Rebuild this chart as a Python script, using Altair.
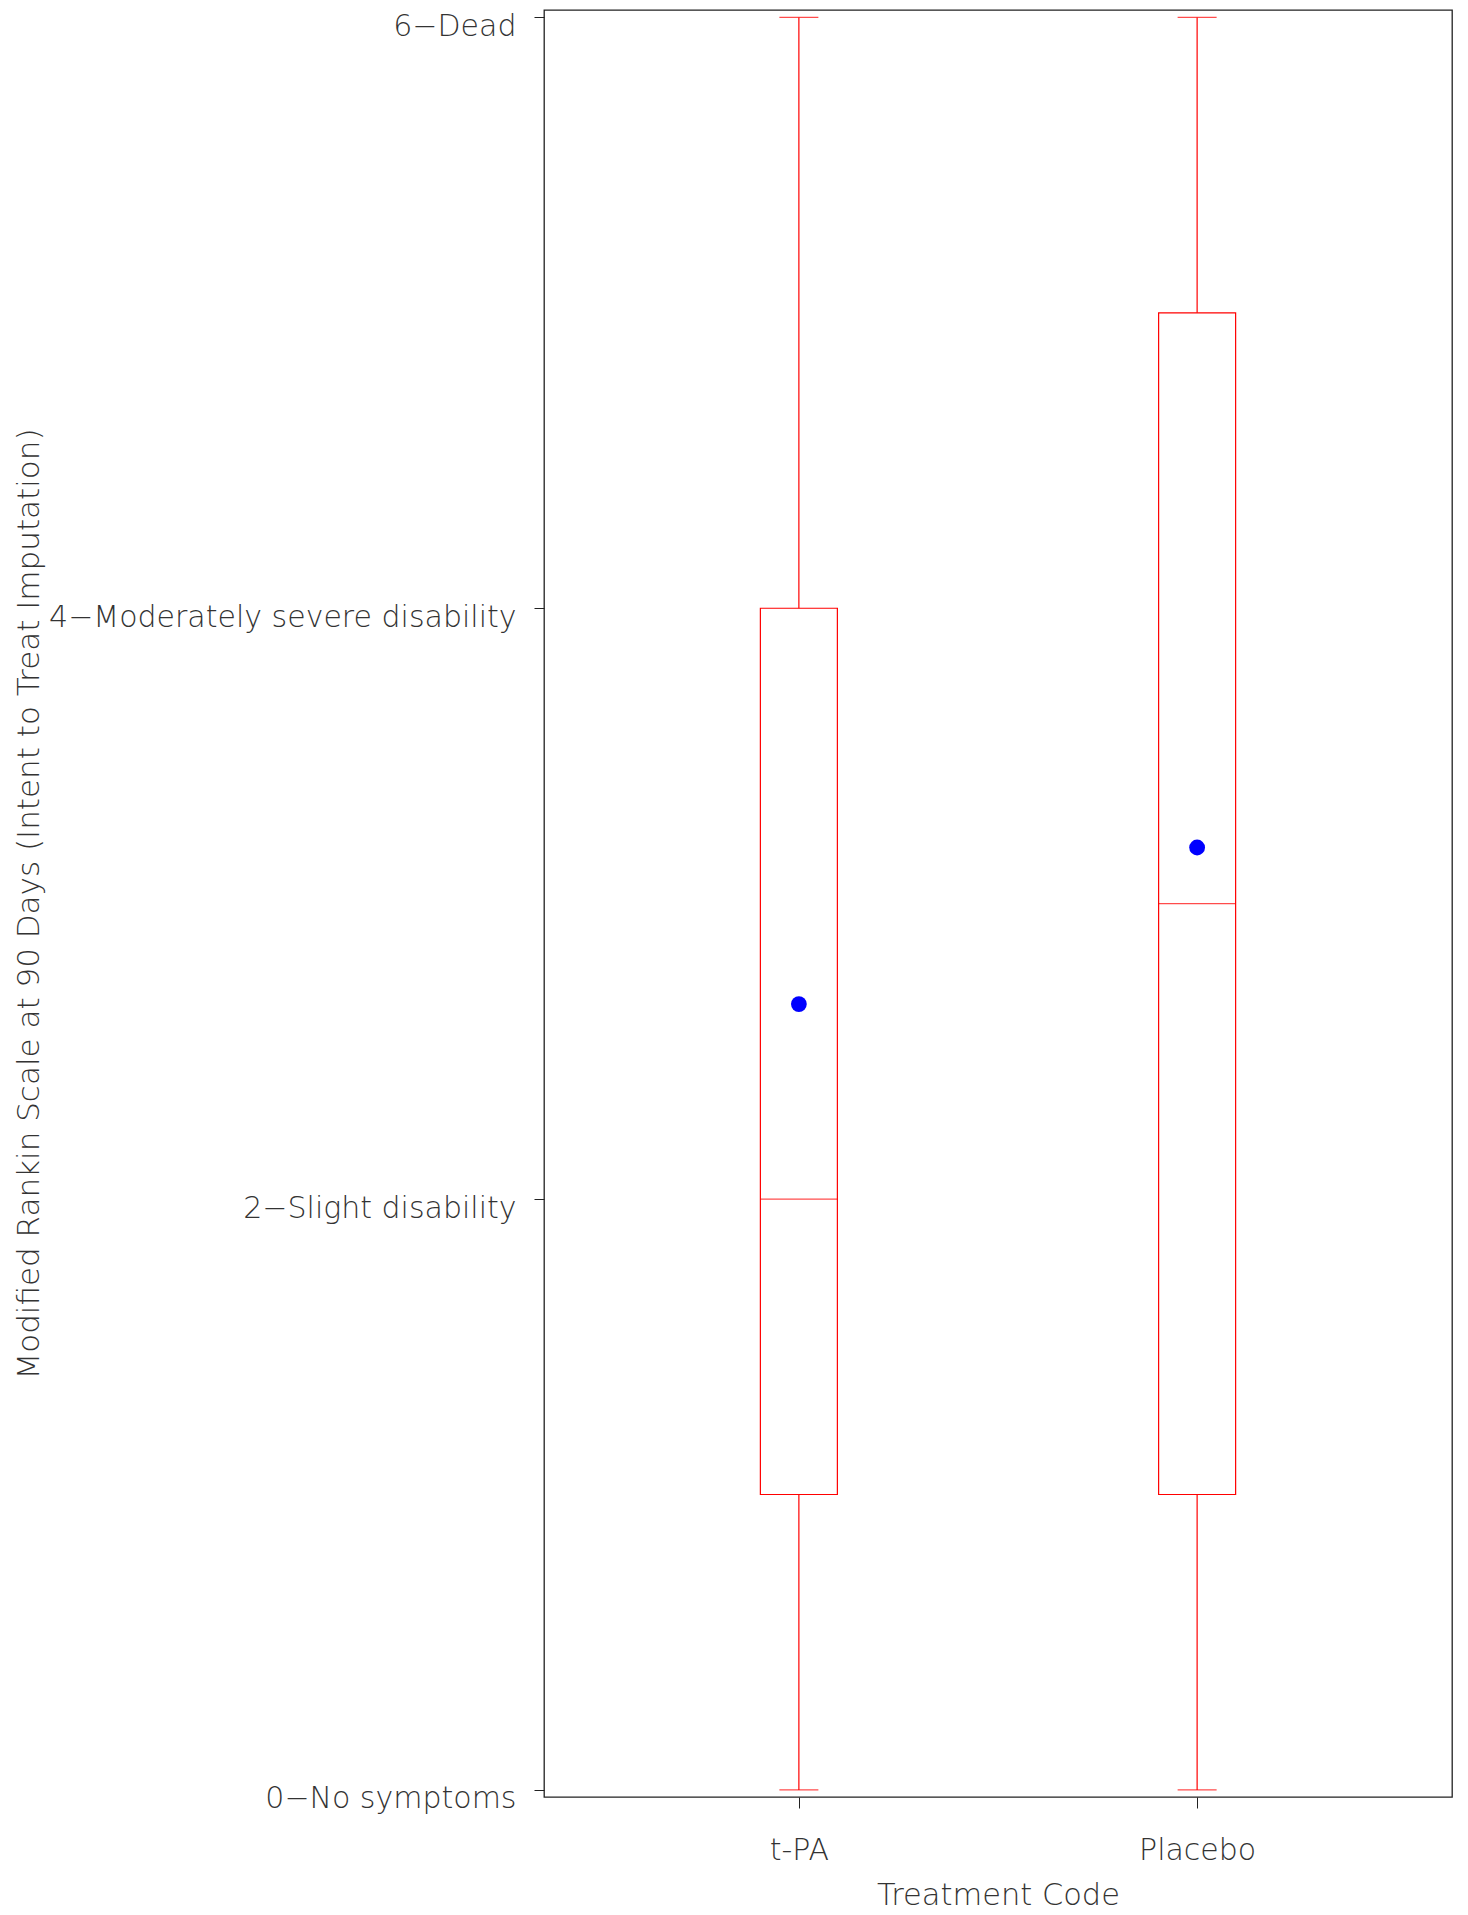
import altair as alt
import pandas as pd

treatments = ["t-PA", "Placebo"]
whisker_low = [0, 0]
q1 = [1, 1]
median = [2, 3]
q3 = [4, 5]
whisker_high = [6, 6]
means = [2.66, 3.19]

y_tick_values = [0, 2, 4, 6]
y_tick_labels = ["0\u2212No symptoms", "2\u2212Slight disability",
                 "4\u2212Moderately severe disability", "6\u2212Dead"]

df = pd.DataFrame({
    "trt": treatments, "lo": whisker_low, "q1": q1, "med": median,
    "q3": q3, "hi": whisker_high, "mean": means,
})

label_expr = " : ".join(
    [f"datum.value == {v} ? '{l}'" for v, l in zip(y_tick_values, y_tick_labels)]
) + " : ''"

FONT = "DejaVu Sans"
RED = "#FF0000"

xenc = alt.X("trt:N", sort=treatments, title="Treatment Code",
             scale=alt.Scale(type="point", padding=0.64),
             axis=alt.Axis(labelAngle=0, domain=False, tickSize=11, tickColor="#222",
                           labelPadding=27, labelFontSize=30, labelColor="#333",
                           labelLimit=0,
                           titleFontSize=30.5, titleColor="#333", titleFontWeight=200,
                           labelFont=FONT, titleFont=FONT, labelFontWeight=200,
                           titleY=98, titleBaseline="middle"))

yscale = alt.Scale(domain=[-0.024, 6.025], nice=False, zero=False)
yaxis = alt.Axis(values=y_tick_values, labelExpr=label_expr, domain=False, grid=False,
                 tickSize=10, tickColor="#222", labelPadding=18, labelOffset=9,
                 labelLimit=0,
                 labelFontSize=30, labelColor="#333", labelFont=FONT, labelFontWeight=200,
                 title="Modified Rankin Scale at 90 Days (Intent to Treat Imputation)",
                 titleFontSize=31, titleColor="#333", titleFont=FONT, titleFontWeight=200,
                 titleX=-515, titleBaseline="middle", titleLimit=0)

base = alt.Chart(df).encode(x=xenc)

lower = base.mark_rule(color=RED, strokeWidth=1.2).encode(
    y=alt.Y("lo:Q", scale=yscale, axis=yaxis), y2="q1:Q")
upper = base.mark_rule(color=RED, strokeWidth=1.2).encode(
    y=alt.Y("q3:Q", scale=yscale), y2="hi:Q")
box = base.mark_bar(fill="white", fillOpacity=0, stroke=RED, strokeWidth=1.2, size=77).encode(
    y=alt.Y("q1:Q", scale=yscale), y2="q3:Q")
med = base.mark_tick(color=RED, thickness=1.2, size=77, orient="horizontal").encode(
    y=alt.Y("med:Q", scale=yscale))
cap_lo = base.mark_tick(color=RED, thickness=1.2, size=39, orient="horizontal").encode(
    y=alt.Y("lo:Q", scale=yscale))
cap_hi = base.mark_tick(color=RED, thickness=1.2, size=39, orient="horizontal").encode(
    y=alt.Y("hi:Q", scale=yscale))
dots = base.mark_point(filled=True, shape="circle", color="#0000FF", size=250, opacity=1).encode(
    y=alt.Y("mean:Q", scale=yscale))

chart = alt.layer(lower, upper, box, med, cap_lo, cap_hi, dots).properties(
    width=908, height=1787,
    autosize=alt.AutoSizeParams(type="none"),
    padding={"left": 536, "top": 2, "right": 8, "bottom": 118},
).configure_view(stroke="#222", strokeWidth=1.3)

chart.save("out.html", embed_options={"renderer": "svg", "actions": False})
